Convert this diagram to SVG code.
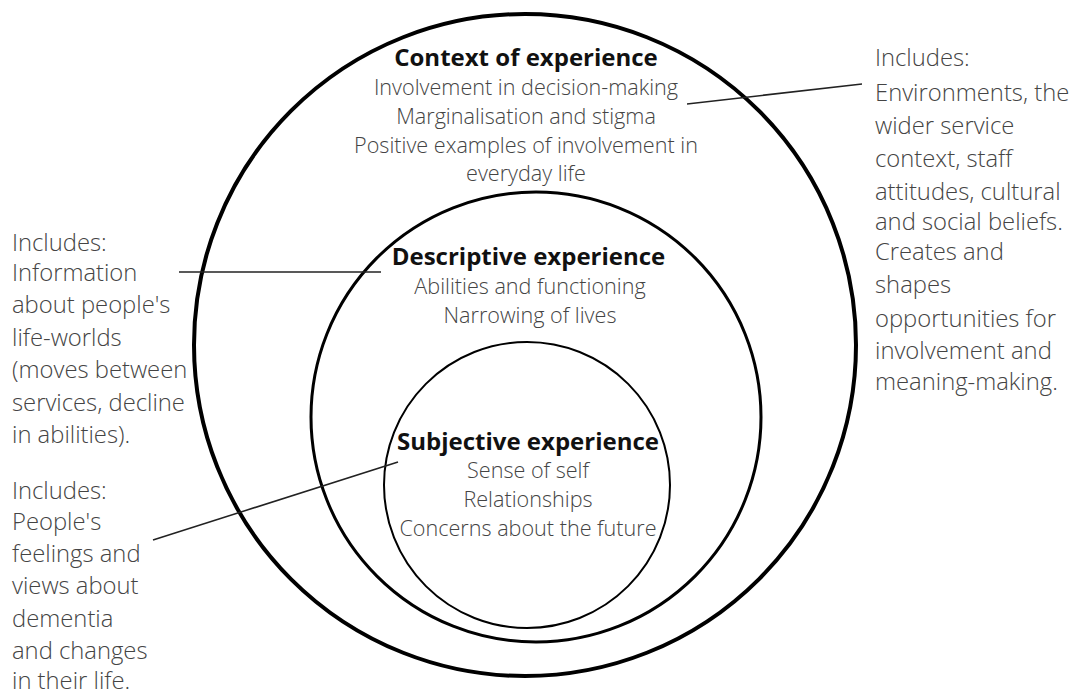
<svg xmlns="http://www.w3.org/2000/svg" width="1073" height="692" viewBox="0 0 1073 692">
<style>
.ring{fill:none;stroke:#000}
.t{font-family:"Open Sans","Liberation Sans",sans-serif;font-weight:700;font-size:24px;fill:#111;text-anchor:middle}
.b{font-family:"Open Sans","Liberation Sans",sans-serif;font-weight:300;font-size:21.6px;fill:#444;text-anchor:middle}
.s{font-family:"Open Sans","Liberation Sans",sans-serif;font-weight:300;font-size:23.8px;fill:#444}
.c{stroke:#222;stroke-width:1.6;fill:none}
</style>
<rect width="1073" height="692" fill="#fff"/>
<g id="context">
<circle class="ring" cx="525" cy="345" r="331" stroke-width="4"/>
<text class="t" x="526" y="65.5">Context of experience</text>
<text class="b" x="526" y="95">Involvement in decision-making</text>
<text class="b" x="526" y="124">Marginalisation and stigma</text>
<text class="b" x="526" y="153">Positive examples of involvement in</text>
<text class="b" x="526" y="181">everyday life</text>
</g>
<g id="descriptive">
<circle class="ring" cx="536" cy="417" r="225" stroke-width="3"/>
<text class="t" x="528.5" y="264.5">Descriptive experience</text>
<text class="b" x="530" y="294">Abilities and functioning</text>
<text class="b" x="530" y="323">Narrowing of lives</text>
</g>
<g id="subjective">
<circle class="ring" cx="527" cy="485" r="143" stroke-width="2"/>
<text class="t" x="528" y="449.5">Subjective experience</text>
<text class="b" x="528" y="478">Sense of self</text>
<text class="b" x="528" y="507">Relationships</text>
<text class="b" x="528" y="536">Concerns about the future</text>
</g>
<g id="note-context">
<text class="s" x="875" y="65.5">Includes:</text>
<text class="s" x="875" y="100.5">Environments, the</text>
<text class="s" x="875" y="133.5">wider service</text>
<text class="s" x="875" y="166.5">context, staff</text>
<text class="s" x="875" y="199.5">attitudes, cultural</text>
<text class="s" x="875" y="229.5">and social beliefs.</text>
<text class="s" x="875" y="259.5">Creates and</text>
<text class="s" x="875" y="292.5">shapes</text>
<text class="s" x="875" y="326.5">opportunities for</text>
<text class="s" x="875" y="358.5">involvement and</text>
<text class="s" x="875" y="389.5">meaning-making.</text>
</g>
<g id="note-descriptive">
<text class="s" x="12" y="250.5">Includes:</text>
<text class="s" x="12" y="280.5">Information</text>
<text class="s" x="12" y="312.5">about people's</text>
<text class="s" x="12" y="345.5">life-worlds</text>
<text class="s" x="12" y="377.5">(moves between</text>
<text class="s" x="12" y="410.5">services, decline</text>
<text class="s" x="12" y="442.5">in abilities).</text>
</g>
<g id="note-subjective">
<text class="s" x="12" y="498.5">Includes:</text>
<text class="s" x="12" y="529.5">People's</text>
<text class="s" x="12" y="561.5">feelings and</text>
<text class="s" x="12" y="593.5">views about</text>
<text class="s" x="12" y="626.5">dementia</text>
<text class="s" x="12" y="658.5">and changes</text>
<text class="s" x="12" y="689">in their life.</text>
</g>
<g id="connectors">
<line class="c" x1="687" y1="104" x2="862" y2="84"/>
<line class="c" x1="179" y1="272" x2="381" y2="272"/>
<line class="c" x1="153" y1="540" x2="398" y2="462"/>
</g>
</svg>
